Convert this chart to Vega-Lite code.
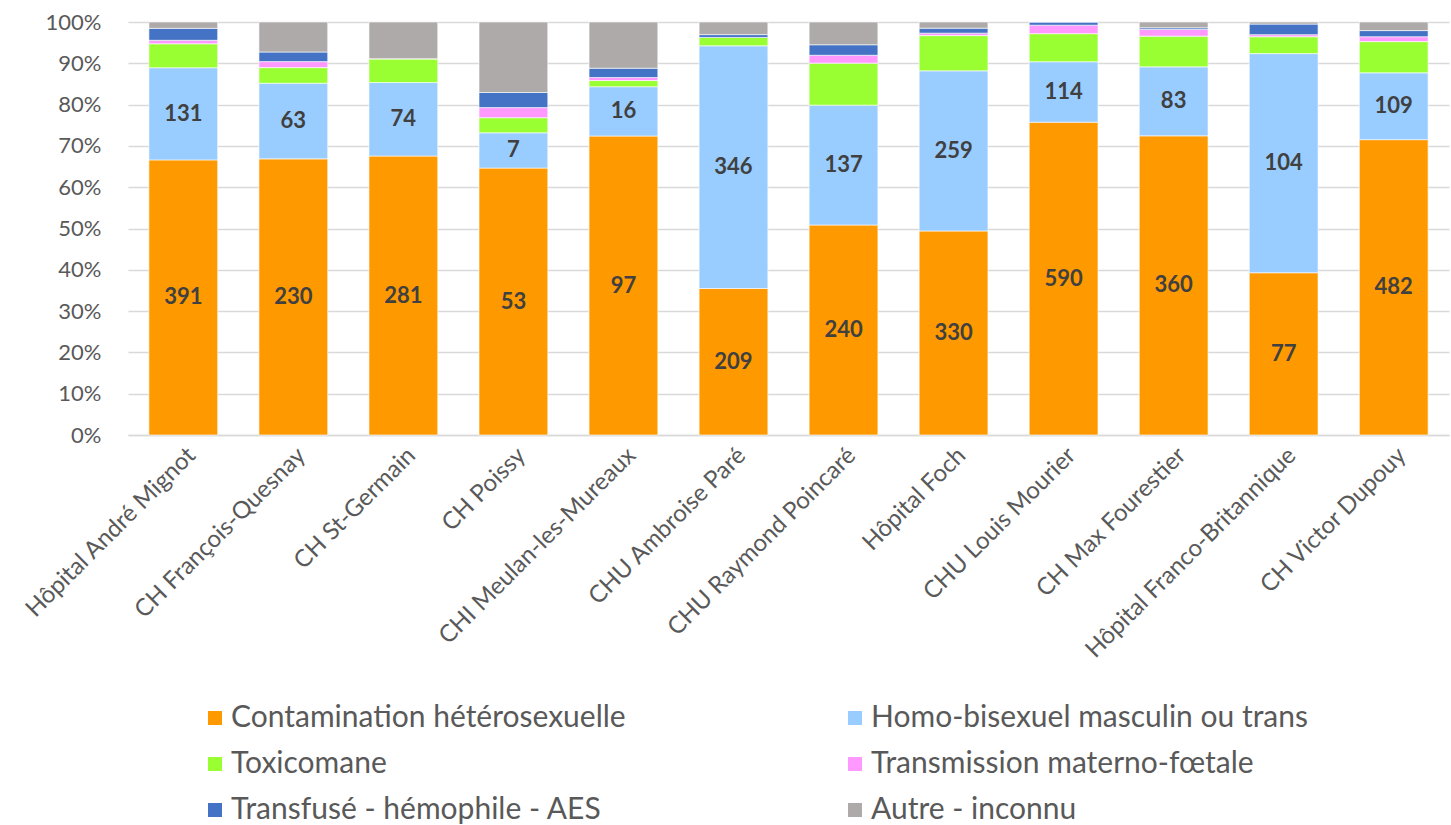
{
  "$schema": "https://vega.github.io/schema/vega-lite/v6.json",
  "width": 1321,
  "height": 413,
  "autosize": {"type": "none"},
  "padding": {"left": 128, "top": 22, "right": 2, "bottom": 390},
  "background": "#ffffff",
  "config": {
    "view": {"stroke": null},
    "font": "Lato",
    "axis": {"labelFont": "Lato", "labelColor": "#595959"},
    "legend": {"labelFont": "Lato"}
  },
  "data": {
    "values": [
      {"h": "Hôpital André Mignot", "c": "Contamination hétérosexuelle", "n": 391},
      {"h": "Hôpital André Mignot", "c": "Homo-bisexuel masculin ou trans", "n": 131},
      {"h": "Hôpital André Mignot", "c": "Toxicomane", "n": 34},
      {"h": "Hôpital André Mignot", "c": "Transmission materno-fœtale", "n": 5},
      {"h": "Hôpital André Mignot", "c": "Transfusé - hémophile - AES", "n": 17},
      {"h": "Hôpital André Mignot", "c": "Autre - inconnu", "n": 9},
      {"h": "CH François-Quesnay", "c": "Contamination hétérosexuelle", "n": 230},
      {"h": "CH François-Quesnay", "c": "Homo-bisexuel masculin ou trans", "n": 63},
      {"h": "CH François-Quesnay", "c": "Toxicomane", "n": 13},
      {"h": "CH François-Quesnay", "c": "Transmission materno-fœtale", "n": 5},
      {"h": "CH François-Quesnay", "c": "Transfusé - hémophile - AES", "n": 8},
      {"h": "CH François-Quesnay", "c": "Autre - inconnu", "n": 25},
      {"h": "CH St-Germain", "c": "Contamination hétérosexuelle", "n": 281},
      {"h": "CH St-Germain", "c": "Homo-bisexuel masculin ou trans", "n": 74},
      {"h": "CH St-Germain", "c": "Toxicomane", "n": 24},
      {"h": "CH St-Germain", "c": "Transmission materno-fœtale", "n": 0},
      {"h": "CH St-Germain", "c": "Transfusé - hémophile - AES", "n": 0},
      {"h": "CH St-Germain", "c": "Autre - inconnu", "n": 37},
      {"h": "CH Poissy", "c": "Contamination hétérosexuelle", "n": 53},
      {"h": "CH Poissy", "c": "Homo-bisexuel masculin ou trans", "n": 7},
      {"h": "CH Poissy", "c": "Toxicomane", "n": 3},
      {"h": "CH Poissy", "c": "Transmission materno-fœtale", "n": 2},
      {"h": "CH Poissy", "c": "Transfusé - hémophile - AES", "n": 3},
      {"h": "CH Poissy", "c": "Autre - inconnu", "n": 14},
      {"h": "CHI Meulan-les-Mureaux", "c": "Contamination hétérosexuelle", "n": 97},
      {"h": "CHI Meulan-les-Mureaux", "c": "Homo-bisexuel masculin ou trans", "n": 16},
      {"h": "CHI Meulan-les-Mureaux", "c": "Toxicomane", "n": 2},
      {"h": "CHI Meulan-les-Mureaux", "c": "Transmission materno-fœtale", "n": 1},
      {"h": "CHI Meulan-les-Mureaux", "c": "Transfusé - hémophile - AES", "n": 3},
      {"h": "CHI Meulan-les-Mureaux", "c": "Autre - inconnu", "n": 15},
      {"h": "CHU Ambroise Paré", "c": "Contamination hétérosexuelle", "n": 209},
      {"h": "CHU Ambroise Paré", "c": "Homo-bisexuel masculin ou trans", "n": 346},
      {"h": "CHU Ambroise Paré", "c": "Toxicomane", "n": 12},
      {"h": "CHU Ambroise Paré", "c": "Transmission materno-fœtale", "n": 0},
      {"h": "CHU Ambroise Paré", "c": "Transfusé - hémophile - AES", "n": 4},
      {"h": "CHU Ambroise Paré", "c": "Autre - inconnu", "n": 18},
      {"h": "CHU Raymond Poincaré", "c": "Contamination hétérosexuelle", "n": 240},
      {"h": "CHU Raymond Poincaré", "c": "Homo-bisexuel masculin ou trans", "n": 137},
      {"h": "CHU Raymond Poincaré", "c": "Toxicomane", "n": 48},
      {"h": "CHU Raymond Poincaré", "c": "Transmission materno-fœtale", "n": 9},
      {"h": "CHU Raymond Poincaré", "c": "Transfusé - hémophile - AES", "n": 12},
      {"h": "CHU Raymond Poincaré", "c": "Autre - inconnu", "n": 26},
      {"h": "Hôpital Foch", "c": "Contamination hétérosexuelle", "n": 330},
      {"h": "Hôpital Foch", "c": "Homo-bisexuel masculin ou trans", "n": 259},
      {"h": "Hôpital Foch", "c": "Toxicomane", "n": 57},
      {"h": "Hôpital Foch", "c": "Transmission materno-fœtale", "n": 4},
      {"h": "Hôpital Foch", "c": "Transfusé - hémophile - AES", "n": 8},
      {"h": "Hôpital Foch", "c": "Autre - inconnu", "n": 10},
      {"h": "CHU Louis Mourier", "c": "Contamination hétérosexuelle", "n": 590},
      {"h": "CHU Louis Mourier", "c": "Homo-bisexuel masculin ou trans", "n": 114},
      {"h": "CHU Louis Mourier", "c": "Toxicomane", "n": 53},
      {"h": "CHU Louis Mourier", "c": "Transmission materno-fœtale", "n": 16},
      {"h": "CHU Louis Mourier", "c": "Transfusé - hémophile - AES", "n": 6},
      {"h": "CHU Louis Mourier", "c": "Autre - inconnu", "n": 0},
      {"h": "CH Max Fourestier", "c": "Contamination hétérosexuelle", "n": 360},
      {"h": "CH Max Fourestier", "c": "Homo-bisexuel masculin ou trans", "n": 83},
      {"h": "CH Max Fourestier", "c": "Toxicomane", "n": 37},
      {"h": "CH Max Fourestier", "c": "Transmission materno-fœtale", "n": 8},
      {"h": "CH Max Fourestier", "c": "Transfusé - hémophile - AES", "n": 2},
      {"h": "CH Max Fourestier", "c": "Autre - inconnu", "n": 7},
      {"h": "Hôpital Franco-Britannique", "c": "Contamination hétérosexuelle", "n": 77},
      {"h": "Hôpital Franco-Britannique", "c": "Homo-bisexuel masculin ou trans", "n": 104},
      {"h": "Hôpital Franco-Britannique", "c": "Toxicomane", "n": 8},
      {"h": "Hôpital Franco-Britannique", "c": "Transmission materno-fœtale", "n": 1},
      {"h": "Hôpital Franco-Britannique", "c": "Transfusé - hémophile - AES", "n": 5},
      {"h": "Hôpital Franco-Britannique", "c": "Autre - inconnu", "n": 1},
      {"h": "CH Victor Dupouy", "c": "Contamination hétérosexuelle", "n": 482},
      {"h": "CH Victor Dupouy", "c": "Homo-bisexuel masculin ou trans", "n": 109},
      {"h": "CH Victor Dupouy", "c": "Toxicomane", "n": 51},
      {"h": "CH Victor Dupouy", "c": "Transmission materno-fœtale", "n": 8},
      {"h": "CH Victor Dupouy", "c": "Transfusé - hémophile - AES", "n": 10},
      {"h": "CH Victor Dupouy", "c": "Autre - inconnu", "n": 14}
    ]
  },
  "transform": [
    {"window": [{"op": "row_number", "as": "k"}], "groupby": ["h"]}
  ],
  "encoding": {
    "x": {
      "field": "h",
      "type": "nominal",
      "sort": null,
      "title": null,
      "scale": {"paddingInner": 0.375, "paddingOuter": 0.19},
      "axis": {
        "labelAngle": -45,
        "labelFontSize": 24,
        "labelPadding": 8,
        "labelLimit": 500,
        "domainColor": "#d9d9d9",
        "domainWidth": 1.5,
        "ticks": false
      }
    },
    "y": {
      "field": "n",
      "type": "quantitative",
      "aggregate": "sum",
      "stack": "normalize",
      "title": null,
      "scale": {"domain": [0, 1], "nice": false},
      "axis": {
        "format": ".0%",
        "values": [0, 0.1, 0.2, 0.3, 0.4, 0.5, 0.6, 0.7, 0.8, 0.9, 1],
        "labelFontSize": 22,
        "labelPadding": 27,
        "domain": false,
        "ticks": false,
        "gridColor": "#d9d9d9",
        "gridWidth": 1.5
      }
    },
    "order": {"field": "k", "type": "quantitative", "aggregate": "min"}
  },
  "layer": [
    {
      "mark": {"type": "bar", "stroke": "#ffffff", "strokeWidth": 0.6},
      "encoding": {
        "color": {
          "field": "c",
          "type": "nominal",
          "title": null,
          "scale": {
            "domain": ["Contamination hétérosexuelle", "Homo-bisexuel masculin ou trans", "Toxicomane", "Transmission materno-fœtale", "Transfusé - hémophile - AES", "Autre - inconnu"],
            "range": ["#ff9900", "#99ccff", "#99ff33", "#ff99ff", "#4472c4", "#aeaaaa"]
          },
          "legend": {
            "orient": "none",
            "legendX": 72,
            "legendY": 681,
            "direction": "horizontal",
            "columns": 2,
            "columnPadding": 214,
            "rowPadding": 16,
            "padding": 0,
            "symbolType": "square",
            "symbolSize": 196,
            "symbolStrokeWidth": 0,
            "labelFontSize": 30,
            "labelColor": "#595959",
            "labelOffset": 1,
            "labelLimit": 700
          }
        }
      }
    },
    {
      "mark": {"type": "text", "fontSize": 22, "fontWeight": "bold", "color": "#404040", "font": "Lato"},
      "encoding": {
        "y": {
          "field": "n",
          "type": "quantitative",
          "aggregate": "sum",
          "stack": "normalize",
          "bandPosition": 0.5
        },
        "detail": {"field": "c", "type": "nominal"},
        "text": {
          "condition": {
            "test": "datum.c === 'Contamination hétérosexuelle' || datum.c === 'Homo-bisexuel masculin ou trans'",
            "field": "n",
            "type": "quantitative",
            "aggregate": "sum"
          },
          "value": ""
        }
      }
    }
  ]
}
